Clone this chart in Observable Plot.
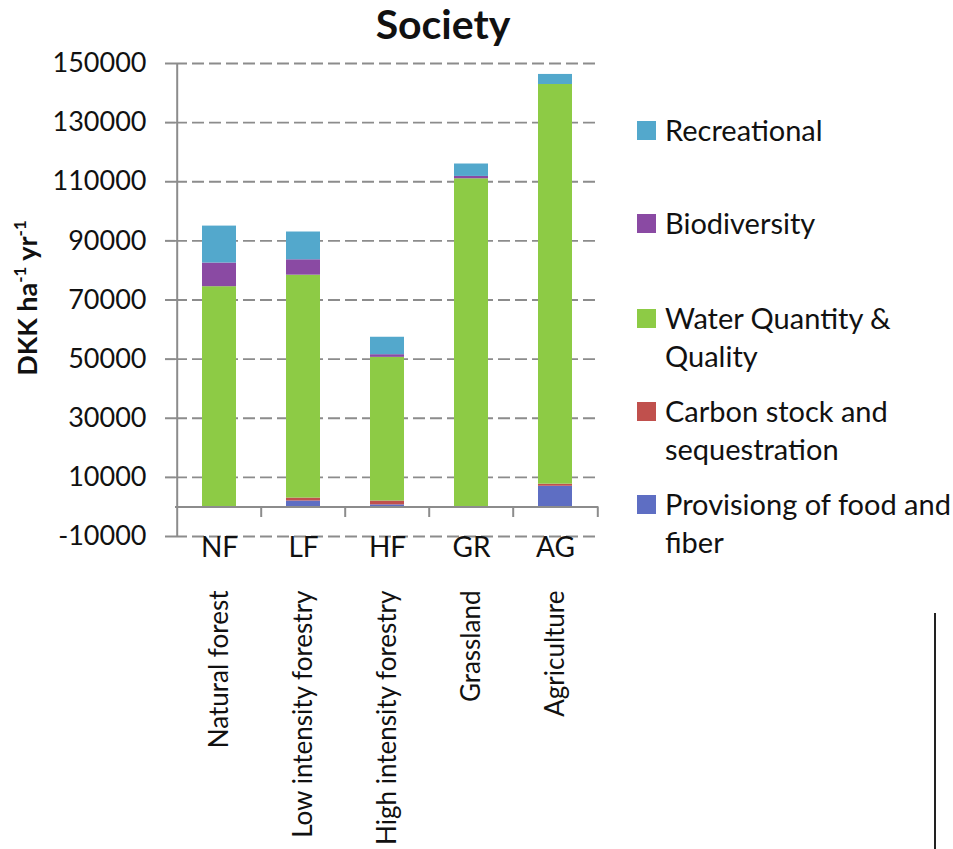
<!DOCTYPE html>
<html>
<head>
<meta charset="utf-8">
<script src="https://cdn.jsdelivr.net/npm/d3@7"></script>
<script src="https://cdn.jsdelivr.net/npm/@observablehq/plot@0.6"></script>
<style>
  html, body { margin: 0; padding: 0; background: #fff; }
  #wrap { position: relative; width: 953px; height: 849px; font-family: Lato, "Open Sans", sans-serif; color: #111; }
  #title { position: absolute; left: 0; width: 886px; top: 0; height: 48px; line-height: 48px; text-align: center; font-weight: 700; font-size: 41px; }
  #ylabel { position: absolute; left: 26px; top: 298px; transform: translate(-50%, -50%) rotate(-90deg); white-space: nowrap; font-weight: 700; font-size: 27px; }
  #ylabel sup { font-size: 17px; vertical-align: 11px; line-height: 0; }
  .item { position: absolute; left: 665px; font-size: 29px; line-height: 38px; white-space: nowrap; }
  .swatch { position: absolute; left: 637px; width: 19px; height: 19px; }
  #rule { position: absolute; left: 934px; top: 613px; width: 2px; height: 236px; background: #222; }
</style>
</head>
<body>
<div id="wrap">
  <div id="chart"></div>
  <div id="title">Society</div>
  <div id="ylabel">DKK ha<sup>-1</sup> yr<sup>-1</sup></div>
  <div id="legend"></div>
  <div id="rule"></div>
</div>
<script>
// Land-use categories (short axis codes and full names)
const categories = ["NF", "LF", "HF", "GR", "AG"];
const categoryNames = ["Natural forest", "Low intensity forestry", "High intensity forestry", "Grassland", "Agriculture"];

// Ecosystem services, stacked bottom to top
const services = [
  "Provisiong of food and fiber",
  "Carbon stock and sequestration",
  "Water Quantity & Quality",
  "Biodiversity",
  "Recreational"
];
const serviceColors = ["#5e6ec3", "#c0504d", "#8dcb45", "#8a4aa3", "#53a8cc"];

// Value to society per service, DKK ha-1 yr-1, one value per category
const provisioning = [0, 2000, 700, 0, 7000];
const carbon       = [0, 1000, 1300, 0, 700];
const water        = [74500, 75400, 48600, 111000, 135200];
const biodiversity = [8000, 5200, 900, 800, 0];
const recreational = [12500, 9400, 5900, 4200, 3400];

// Value axis ticks
const yTicks = [-10000, 10000, 30000, 50000, 70000, 90000, 110000, 130000, 150000];
const yMin = -10000, yMax = 150000;

const seriesValues = [provisioning, carbon, water, biodiversity, recreational];
const rows = [];
services.forEach((s, si) => {
  categories.forEach((c, ci) => rows.push({category: c, service: s, value: seriesValues[si][ci]}));
});
const labelRows = categories.map((c, i) => ({category: c, name: categoryNames[i]}));

const width = 953, height = 849;
const marginLeft = 175, marginRight = 355, marginTop = 63, marginBottom = 313;
const step = (width - marginLeft - marginRight) / categories.length;
const gray = "#8c8c8c";

const chart = Plot.plot({
  width, height, marginLeft, marginRight, marginTop, marginBottom,
  style: {fontFamily: "Lato, 'Open Sans', sans-serif", fontSize: "27px", color: "#111", background: "white"},
  x: {domain: categories, paddingInner: 0.6, paddingOuter: 0.3, axis: null},
  y: {domain: [yMin, yMax], axis: null},
  color: {domain: services, range: serviceColors},
  marks: [
    Plot.ruleY(yTicks, {stroke: gray, strokeWidth: 1.8, strokeDasharray: "12,5"}),
    Plot.barY(rows, {x: "category", y: "value", fill: "service"}),
    Plot.ruleY([0], {stroke: gray, strokeWidth: 2}),
    // value axis line along the left edge of the first category slot
    Plot.ruleX([categories[0]], {dx: -step / 2, y1: yMin, y2: yMax, stroke: gray, strokeWidth: 2}),
    // category separators below the zero line
    Plot.ruleX(categories.slice(1), {dx: -step / 2, y1: 0, y2: yMin, insetBottom: 19, stroke: gray, strokeWidth: 2}),
    Plot.ruleX([categories[categories.length - 1]], {dx: step / 2, y1: 0, y2: yMin, insetBottom: 19, stroke: gray, strokeWidth: 2}),
    Plot.axisY({ticks: yTicks, tickSize: 10, tickPadding: 19, tickFormat: d => String(d), stroke: gray, strokeWidth: 2, fontSize: 27, label: null}),
    Plot.text(labelRows, {x: "category", y: () => yMin, text: "category", lineAnchor: "top", dy: 1, fontSize: 28}),
    Plot.text(labelRows, {x: "category", y: () => yMin, text: "name", rotate: -90, textAnchor: "end", dy: 54, fontSize: 26})
  ]
});
document.getElementById("chart").appendChild(chart);

// Legend, top entry first
const legendLines = {
  "Recreational": ["Recreational"],
  "Biodiversity": ["Biodiversity"],
  "Water Quantity & Quality": ["Water Quantity &", "Quality"],
  "Carbon stock and sequestration": ["Carbon stock and", "sequestration"],
  "Provisiong of food and fiber": ["Provisiong of food and", "fiber"]
};
const legendTops = [111, 204, 299, 392, 485];
const legend = document.getElementById("legend");
services.slice().reverse().forEach((s, i) => {
  const top = legendTops[i];
  const sw = document.createElement("div");
  sw.className = "swatch";
  sw.style.top = (top + 10) + "px";
  sw.style.background = serviceColors[services.indexOf(s)];
  legend.appendChild(sw);
  const t = document.createElement("div");
  t.className = "item";
  t.style.top = top + "px";
  t.innerHTML = legendLines[s].map(l => l.replace("&", "&amp;")).join("<br>");
  legend.appendChild(t);
});
</script>
</body>
</html>
